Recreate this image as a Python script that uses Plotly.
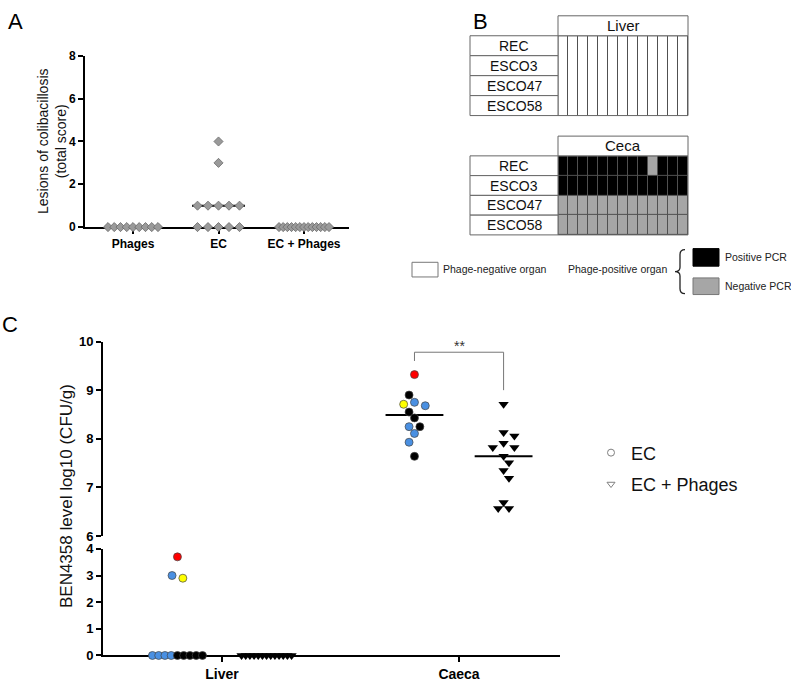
import numpy as np
import plotly.graph_objects as go

# ---------------- data ----------------
# Panel A : lesion scores (total score) per bird
a_groups = ["Phages", "EC", "EC + Phages"]
a_phages = [0, 0, 0, 0, 0, 0, 0, 0, 0]
a_ec = [0, 0, 0, 0, 0, 1, 1, 1, 1, 1, 3, 4]
a_ec_phages = [0, 0, 0, 0, 0, 0, 0, 0, 0, 0, 0, 0, 0]
a_yticks = [0, 2, 4, 6, 8]

# Panel B : phage detection per organ (0 = phage-negative organ,
# 1 = phage-positive organ / positive PCR, 2 = phage-positive organ / negative PCR)
b_rows = ["REC", "ESCO3", "ESCO47", "ESCO58"]
b_liver = [
    [0, 0, 0, 0, 0, 0, 0, 0, 0, 0, 0, 0, 0],
    [0, 0, 0, 0, 0, 0, 0, 0, 0, 0, 0, 0, 0],
    [0, 0, 0, 0, 0, 0, 0, 0, 0, 0, 0, 0, 0],
    [0, 0, 0, 0, 0, 0, 0, 0, 0, 0, 0, 0, 0],
]
b_ceca = [
    [1, 1, 1, 1, 1, 1, 1, 1, 1, 2, 1, 1, 1],
    [1, 1, 1, 1, 1, 1, 1, 1, 1, 1, 1, 1, 1],
    [2, 2, 2, 2, 2, 2, 2, 2, 2, 2, 2, 2, 2],
    [2, 2, 2, 2, 2, 2, 2, 2, 2, 2, 2, 2, 2],
]
b_legend = ["Phage-negative organ", "Phage-positive organ", "Positive PCR", "Negative PCR"]

# Panel C : BEN4358 level log10 (CFU/g)
c_organs = ["Liver", "Caeca"]
c_series = ["EC", "EC + Phages"]
c_ec_liver = [0, 0, 0, 0, 0, 0, 0, 0, 0, 3.0, 2.9, 3.7]
c_ec_liver_sub = ["iii", "iii", "iii", "iii", "iv", "iv", "iv", "iv", "iv", "iii", "ii", "i"]
c_ec_caeca = [9.32, 8.90, 8.75, 8.71, 8.68, 8.55, 8.43, 8.25, 8.25, 8.11, 7.93, 7.64]
c_ec_caeca_sub = ["i", "iv", "iii", "ii", "iii", "iv", "iv", "iii", "iv", "iii", "iii", "iv"]
c_ecp_liver = [0, 0, 0, 0, 0, 0, 0, 0, 0, 0, 0, 0, 0]
c_ecp_caeca = [8.71, 8.13, 8.06, 7.91, 7.82, 7.82, 7.64, 7.51, 7.35, 7.19, 6.69, 6.57, 6.57]
c_yticks_low = [0, 1, 2, 3, 4]
c_yticks_high = [6, 7, 8, 9, 10]
c_signif = "**"

# ---------------- styles / geometry ----------------
W, H = 791, 685
FONT = "Liberation Sans, Arial, sans-serif"
SUB_COLOURS = {"i": "#ff0000", "ii": "#ffff00", "iii": "#4a90e2", "iv": "#000000"}
GRID_COLOURS = ["#ffffff", "#000000", "#a6a6a6"]


def px_x(p):
    return p / W


def px_y(p):
    return 1 - p / H


# panel A geometry (pixels)
A_L, A_R, A_T, A_B = 85, 349, 50, 225
A_XR = [0.4386, 3.526]
A_YR = [0, 8]
A_PXU_X = (A_R - A_L) / (A_XR[1] - A_XR[0])
A_PXU_Y = (A_B - A_T) / (A_YR[1] - A_YR[0])

# panel C geometry (pixels)
C_L, C_R = 103, 560
C_LOW_T, C_LOW_B = 554, 663
C_HI_T, C_HI_B = 342, 541
C_XR = [0.4979, 2.426]
C_PXU_X = (C_R - C_L) / (C_XR[1] - C_XR[0])
C_PXU_LOW = (C_LOW_B - C_LOW_T) / 4.0
C_PXU_HI = (C_HI_B - C_HI_T) / 4.0
C_GROUP_OFF = 0.188
C_MED_HALF = 0.122

# panel B geometry (pixels)
B_L, B_R = 469, 689
B_LIV_T, B_LIV_B = 6.96, 113.04
B_CEC_T, B_CEC_B = 129.98, 235.02
B_XR = [-8.9, 13.1]
B_YR = [3.6, -1.6]
B_LABEL_X0 = -8.8


def swarm_px(values, ypx, step=5.4, diam=8.0, row_w=50.0, row_step=10.8, min_row=4):
    """Beeswarm horizontal offsets (pixels) for a column of points."""
    vals = np.asarray(values, dtype=float)
    n = len(vals)
    off = np.zeros(n)
    placed = []
    tied = set()
    for u in np.unique(vals):
        idx = [i for i in range(n) if vals[i] == u]
        c = len(idx)
        if c >= min_row:
            sp = min(row_step, row_w / (c - 1))
            for k, i in enumerate(idx):
                off[i] = (k - (c - 1) / 2.0) * sp
                placed.append((off[i], vals[i] * ypx))
                tied.add(i)
    rest = sorted([i for i in range(n) if i not in tied], key=lambda i: -vals[i])
    for i in rest:
        y = vals[i] * ypx
        k = 0
        done = False
        while not done:
            for cx in ([0.0] if k == 0 else [k * step, -k * step]):
                if all((cx - p0) ** 2 + (y - p1) ** 2 >= diam ** 2 for p0, p1 in placed):
                    off[i] = cx
                    placed.append((cx, y))
                    done = True
                    break
            k += 1
    # centre each cluster of neighbouring (non-tied) points
    clusters = []
    for i in rest:
        if clusters and abs(vals[clusters[-1][-1]] - vals[i]) * ypx < 1.5 * diam:
            clusters[-1].append(i)
        else:
            clusters.append([i])
    for cl in clusters:
        shift = round(np.mean([off[i] for i in cl]) / step) * step
        for i in cl:
            off[i] -= shift
    return off


fig = go.Figure()

# ---------------- panel A ----------------
a_data = [a_phages, a_ec, a_ec_phages]
for gi, vals in enumerate(a_data):
    cx = gi + 1
    med = float(np.median(vals))
    fig.add_trace(go.Scatter(x=[cx - 0.31, cx + 0.31], y=[med, med], mode="lines",
                             line=dict(color="black", width=2), xaxis="x", yaxis="y",
                             showlegend=False, hoverinfo="skip", cliponaxis=False))
    off = swarm_px(vals, A_PXU_Y, step=5.4, diam=8, row_w=50, row_step=10.5)
    fig.add_trace(go.Scatter(x=cx + off / A_PXU_X, y=vals, mode="markers",
                             marker=dict(symbol="diamond", size=7, color="#9a9a9a",
                                         line=dict(color="#6a6a6a", width=0.8)),
                             xaxis="x", yaxis="y", showlegend=False, cliponaxis=False))


# ---------------- panel C ----------------
def c_points(vals, subs, organ_idx, sign, axis_y, pxu, symbol):
    off = swarm_px(vals, pxu)
    xs = organ_idx + sign * C_GROUP_OFF + off / C_PXU_X
    if symbol == "circle":
        marker = dict(symbol="circle", size=8, color=[SUB_COLOURS[s] for s in subs],
                      line=dict(color="#444444", width=0.7))
    else:
        marker = dict(symbol="triangle-down", size=9, color="black", line=dict(width=0))
    xa = "x2" if axis_y == "y2" else "x3"
    return go.Scatter(x=xs, y=vals, mode="markers", marker=marker, xaxis=xa, yaxis=axis_y,
                      showlegend=False, cliponaxis=False)


def c_median(vals, organ_idx, sign, axis_y):
    med = float(np.median(vals))
    cx = organ_idx + sign * C_GROUP_OFF
    xa = "x2" if axis_y == "y2" else "x3"
    return go.Scatter(x=[cx - C_MED_HALF, cx + C_MED_HALF], y=[med, med], mode="lines",
                      line=dict(color="black", width=2), xaxis=xa, yaxis=axis_y,
                      showlegend=False, hoverinfo="skip", cliponaxis=False)


fig.add_trace(c_median(c_ec_liver, 1, -1, "y2"))
fig.add_trace(c_median(c_ecp_liver, 1, +1, "y2"))
fig.add_trace(c_median(c_ec_caeca, 2, -1, "y3"))
fig.add_trace(c_median(c_ecp_caeca, 2, +1, "y3"))
fig.add_trace(c_points(c_ec_liver, c_ec_liver_sub, 1, -1, "y2", C_PXU_LOW, "circle"))
fig.add_trace(c_points(c_ecp_liver, None, 1, +1, "y2", C_PXU_LOW, "tri"))
fig.add_trace(c_points(c_ec_caeca, c_ec_caeca_sub, 2, -1, "y3", C_PXU_HI, "circle"))
fig.add_trace(c_points(c_ecp_caeca, None, 2, +1, "y3", C_PXU_HI, "tri"))

# significance bracket
left_x = 2 - C_GROUP_OFF
right_x = 2 + C_GROUP_OFF
leg_l = max(c_ec_caeca) + 0.28
leg_r = max(c_ecp_caeca) + 0.29
top = max(leg_l, leg_r) + 0.18
fig.add_trace(go.Scatter(x=[left_x, left_x, right_x, right_x], y=[leg_l, top, top, leg_r],
                         mode="lines", line=dict(color="#777777", width=1),
                         xaxis="x3", yaxis="y3", showlegend=False, hoverinfo="skip",
                         cliponaxis=False))

# legend entries for panel C
fig.add_trace(go.Scatter(x=[None], y=[None], mode="markers", name=c_series[0],
                         marker=dict(symbol="circle-open", size=7, color="#808080",
                                     line=dict(width=1)),
                         xaxis="x2", yaxis="y2", legendgroup="a"))
fig.add_trace(go.Scatter(x=[None], y=[None], mode="markers", name=c_series[1],
                         marker=dict(symbol="triangle-down-open", size=7, color="#808080",
                                     line=dict(width=1)),
                         xaxis="x2", yaxis="y2", legendgroup="b"))

# ---------------- panel B ----------------
cs = [[0, GRID_COLOURS[0]], [0.25, GRID_COLOURS[0]], [0.25, GRID_COLOURS[1]],
      [0.75, GRID_COLOURS[1]], [0.75, GRID_COLOURS[2]], [1, GRID_COLOURS[2]]]
ncol = len(b_liver[0])
cell_x = [c + 0.5 for c in range(ncol)]
cell_y = list(range(len(b_rows)))
fig.add_trace(go.Heatmap(z=b_liver, x=cell_x, y=cell_y, colorscale=cs, zmin=0, zmax=2,
                         showscale=False, xgap=1, ygap=0, xaxis="x4", yaxis="y4",
                         hoverinfo="skip"))
fig.add_trace(go.Heatmap(z=b_ceca, x=cell_x, y=cell_y, colorscale=cs, zmin=0, zmax=2,
                         showscale=False, xgap=1, ygap=1, xaxis="x5", yaxis="y5",
                         hoverinfo="skip"))

shapes = []
annotations = []
GRID_LINE = "#666666"
for xa, ya, title in [("x4", "y4", "Liver"), ("x5", "y5", "Ceca")]:
    nrow = len(b_rows)
    shapes.append(dict(type="rect", xref=xa, yref=ya, x0=0, x1=ncol, y0=-0.5, y1=nrow - 0.5,
                       fillcolor="#505050", line=dict(width=0), layer="below"))
    shapes.append(dict(type="rect", xref=xa, yref=ya, x0=0, x1=ncol, y0=-0.5, y1=nrow - 0.5,
                       fillcolor="rgba(0,0,0,0)", line=dict(color=GRID_LINE, width=1)))
    shapes.append(dict(type="rect", xref=xa, yref=ya, x0=0, x1=ncol, y0=-1.5, y1=-0.5,
                       fillcolor="white", line=dict(color=GRID_LINE, width=1)))
    annotations.append(dict(xref=xa, yref=ya, x=ncol / 2, y=-1, text=title, showarrow=False,
                            font=dict(family=FONT, size=15, color="#111111")))
    for i, r in enumerate(b_rows):
        shapes.append(dict(type="rect", xref=xa, yref=ya, x0=B_LABEL_X0, x1=0,
                           y0=i - 0.5, y1=i + 0.5, fillcolor="white",
                           line=dict(color=GRID_LINE, width=1)))
        annotations.append(dict(xref=xa, yref=ya, x=B_LABEL_X0 / 2, y=i, text=r,
                                showarrow=False,
                                font=dict(family=FONT, size=14, color="#111111")))


# panel B legend
def prect(x0, x1, y0, y1, fill, line_col):
    return dict(type="rect", xref="paper", yref="paper", x0=px_x(x0), x1=px_x(x1),
                y0=px_y(y1), y1=px_y(y0), fillcolor=fill,
                line=dict(color=line_col, width=1))


shapes.append(prect(412, 438, 261, 276, "white", "#777777"))
shapes.append(prect(693, 719, 247, 265, GRID_COLOURS[1], GRID_COLOURS[1]))
shapes.append(prect(693, 719, 277, 294, GRID_COLOURS[2], "#777777"))
brace = [(685, 248), (680, 248), (680, 253), (680, 266), (680, 270.5), (675, 270.5),
         (680, 270.5), (680, 275), (680, 288), (680, 293), (685, 293)]
P = [(px_x(a), px_y(b)) for a, b in brace]
path = ("M {0[0]},{0[1]} Q {1[0]},{1[1]} {2[0]},{2[1]} L {3[0]},{3[1]} "
        "Q {4[0]},{4[1]} {5[0]},{5[1]} Q {6[0]},{6[1]} {7[0]},{7[1]} L {8[0]},{8[1]} "
        "Q {9[0]},{9[1]} {10[0]},{10[1]}").format(*P)
shapes.append(dict(type="path", xref="paper", yref="paper", path=path,
                   line=dict(color="#222222", width=1.3)))
for txt, xp, yp, anc in [(b_legend[0], 441, 268, "left"), (b_legend[1], 669, 268, "right"),
                         (b_legend[2], 723, 256, "left"), (b_legend[3], 723, 285, "left")]:
    annotations.append(dict(xref="paper", yref="paper", x=px_x(xp), y=px_y(yp), text=txt,
                            showarrow=False, xanchor=anc, yanchor="middle",
                            font=dict(family=FONT, size=10.5, color="#222222")))

# panel letters & axis titles
for txt, xp, yp in [("A", 15, 15), ("B", 481, 15), ("C", 10, 325)]:
    annotations.append(dict(xref="paper", yref="paper", x=px_x(xp), y=px_y(yp), text=txt,
                            showarrow=False, xanchor="center", yanchor="middle",
                            font=dict(family=FONT, size=22, color="black")))
annotations.append(dict(xref="paper", yref="paper", x=px_x(52), y=px_y(137),
                        text="Lesions of colibacillosis<br>(total score)", textangle=-90,
                        showarrow=False, xanchor="center", yanchor="middle",
                        font=dict(family=FONT, size=14, color="#111111")))
annotations.append(dict(xref="paper", yref="paper", x=px_x(66), y=px_y(500),
                        text="BEN4358 level log10 (CFU/g)", textangle=-90,
                        showarrow=False, xanchor="center", yanchor="middle",
                        font=dict(family=FONT, size=17, color="#111111")))
annotations.append(dict(xref="x3", yref="y3", x=2, y=top, text=c_signif, showarrow=False,
                        yanchor="bottom", yshift=-4,
                        font=dict(family=FONT, size=14, color="#333333")))

# ---------------- axes ----------------
ax = dict(showline=True, linecolor="black", linewidth=2, ticks="outside", ticklen=5,
          tickwidth=2, tickcolor="black", showgrid=False, zeroline=False,
          layer="below traces", fixedrange=True)
hidden = dict(visible=False, showgrid=False, zeroline=False, fixedrange=True)

fig.update_layout(
    width=W, height=H, margin=dict(l=0, r=0, t=0, b=0),
    plot_bgcolor="white", paper_bgcolor="white",
    font=dict(family=FONT, color="black"),
    xaxis=dict(ax, domain=[px_x(A_L), px_x(A_R)], range=A_XR, tickvals=[1, 2, 3],
               ticktext=a_groups, anchor="y",
               tickfont=dict(family=FONT, size=12, weight="bold")),
    yaxis=dict(ax, domain=[px_y(A_B), px_y(A_T)], range=A_YR, tickvals=a_yticks,
               anchor="x", tickfont=dict(family=FONT, size=12, weight="bold")),
    xaxis2=dict(ax, domain=[px_x(C_L), px_x(C_R)], range=C_XR, tickvals=[1, 2],
                ticktext=c_organs, anchor="y2",
                tickfont=dict(family=FONT, size=14, weight="bold")),
    yaxis2=dict(ax, domain=[px_y(C_LOW_B), px_y(C_LOW_T)], range=[0, 4],
                tickvals=c_yticks_low, anchor="x2",
                tickfont=dict(family=FONT, size=13, weight="bold")),
    xaxis3=dict(hidden, domain=[px_x(C_L), px_x(C_R)], range=C_XR, anchor="y3",
                matches="x2"),
    yaxis3=dict(ax, domain=[px_y(C_HI_B), px_y(C_HI_T)], range=[6, 10],
                tickvals=c_yticks_high, anchor="x3",
                tickfont=dict(family=FONT, size=13, weight="bold")),
    xaxis4=dict(hidden, domain=[px_x(B_L), px_x(B_R)], range=B_XR, anchor="y4"),
    yaxis4=dict(hidden, domain=[px_y(B_LIV_B), px_y(B_LIV_T)], range=B_YR, anchor="x4"),
    xaxis5=dict(hidden, domain=[px_x(B_L), px_x(B_R)], range=B_XR, anchor="y5"),
    yaxis5=dict(hidden, domain=[px_y(B_CEC_B), px_y(B_CEC_T)], range=B_YR, anchor="x5"),
    legend=dict(x=px_x(591), y=px_y(437), xanchor="left", yanchor="top",
                font=dict(family=FONT, size=18, color="#111111"), tracegroupgap=5,
                bgcolor="rgba(0,0,0,0)", borderwidth=0),
    shapes=shapes, annotations=annotations,
)

fig.write_html("out.html", config={"displayModeBar": False},
               post_script="document.body.style.margin='0px';"
                           "document.body.style.overflow='hidden';")
